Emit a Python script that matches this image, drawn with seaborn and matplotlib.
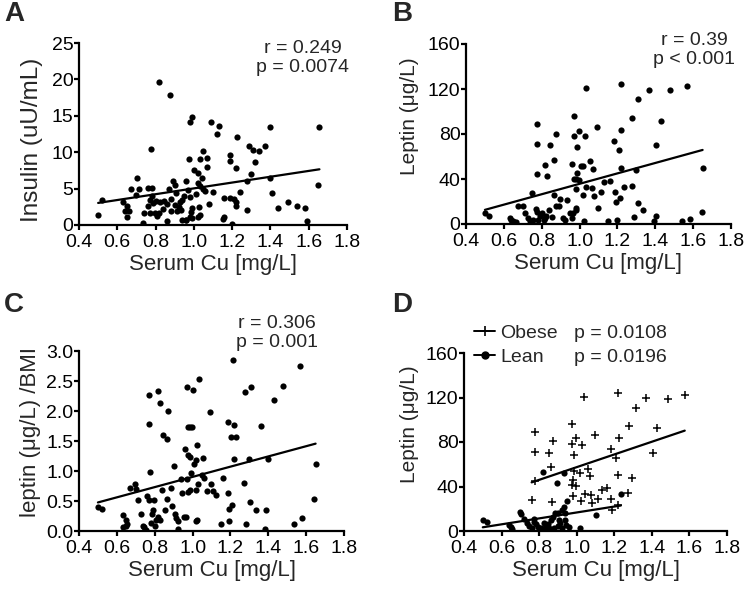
import matplotlib
matplotlib.use("Agg")
import matplotlib.pyplot as plt
from matplotlib.lines import Line2D
import seaborn as sns
import pandas as pd

# --- data ---
# Panel A: serum Cu vs insulin
a_cu = [0.50, 0.52, 0.82, 0.875, 0.775, 0.98, 0.99, 1.09, 1.13, 1.12,
        1.225, 1.40, 1.656, 1.649, 1.29, 1.31, 1.34, 1.37, 1.32, 1.30,
        1.275, 1.28, 1.40, 1.41, 1.44, 1.49, 1.54, 1.58, 1.59, 1.19,
        1.19, 1.22, 1.24, 1.21, 1.22, 1.22, 1.16, 1.19, 1.15, 1.16,
        1.20, 1.05, 1.07, 1.03, 1.07, 1.04, 1.02, 1.00, 1.02, 0.975,
        0.96, 1.03, 1.05, 1.06, 1.10, 1.08, 1.01, 0.98, 0.97, 0.95,
        0.94, 0.93, 0.92, 0.90, 0.89, 0.90, 0.87, 0.905, 0.88, 0.86,
        0.91, 0.88, 0.84, 0.82, 0.86, 0.81, 0.795, 0.77, 0.74, 0.735,
        0.76, 0.78, 0.76, 0.77, 0.785, 0.80, 0.825, 0.845, 0.78, 0.705,
        0.715, 0.67, 0.70, 0.63, 0.65, 0.64, 0.66, 0.65, 0.94, 0.96,
        0.985, 0.99, 0.98, 0.99, 1.02, 1.03, 1.025, 0.935, 0.96]
a_insulin = [1.4, 3.4, 19.6, 17.9, 10.4, 14.1, 14.9, 14.1, 13.6, 12.5,
             12.1, 13.4, 13.5, 5.5, 10.8, 10.3, 10.2, 10.9, 8.6, 7.0,
             6.0, 2.0, 6.4, 4.4, 2.4, 3.2, 2.6, 2.3, 0.5, 9.6,
             8.8, 7.8, 4.6, 3.6, 3.1, 2.6, 3.7, 3.75, 0.8, 1.05,
             0.2, 10.1, 9.2, 9.1, 7.9, 6.4, 5.8, 7.5, 7.2, 9.0,
             6.1, 5.3, 4.9, 4.7, 4.6, 2.9, 4.2, 3.9, 4.8, 4.0,
             3.5, 3.2, 2.5, 2.7, 6.1, 5.5, 4.9, 4.4, 3.6, 2.9,
             1.9, 1.9, 2.2, 1.6, 0.5, 1.3, 1.6, 1.6, 1.6, 0.3,
             5.1, 5.1, 2.6, 3.5, 3.0, 3.3, 3.2, 3.25, 4.0, 6.4,
             5.0, 4.9, 4.1, 3.2, 2.6, 1.9, 1.9, 1.1, 0.7, 0.7,
             1.8, 2.4, 1.1, 0.9, 1.1, 1.4, 2.5, 2.1, 0.7]

# Panel B: serum Cu vs leptin
b_cu = [0.50, 0.52, 0.63, 0.64, 0.65, 0.665, 0.675, 0.70, 0.71, 0.73,
        0.74, 0.75, 0.775, 0.775, 0.775, 0.77, 0.775, 0.79, 0.80, 0.755,
        0.78, 0.81, 0.82, 0.83, 0.845, 0.875, 0.865, 0.865, 0.875, 0.89,
        0.84, 0.825, 0.855, 0.82, 0.895, 0.91, 0.925, 0.935, 0.95, 0.96,
        0.97, 0.97, 0.985, 0.995, 1.005, 1.02, 0.96, 0.985, 0.98, 0.995,
        0.97, 0.98, 0.965, 0.98, 0.98, 1.035, 1.03, 1.02, 1.025, 1.035,
        1.055, 1.07, 1.065, 1.075, 1.09, 1.095, 1.115, 1.13, 1.16, 1.15,
        1.18, 1.185, 1.19, 1.20, 1.22, 1.22, 1.22, 1.21, 1.215, 1.235,
        1.275, 1.275, 1.285, 1.30, 1.31, 1.31, 1.335, 1.365, 1.405, 1.405,
        1.395, 1.43, 1.48, 1.54, 1.57, 1.585, 1.645, 1.65]
b_leptin = [9.8, 7.4, 5.3, 3.9, 2.4, 1.8, 16.3, 16.3, 9.8, 5.3,
            2.4, 27.6, 88.9, 71.1, 44.7, 13.6, 10.7, 7.4, 9.8, 3.9,
            3.9, 3.9, 52.1, 42.4, 69.9, 80.0, 57.2, 25.5, 15.7, 15.7,
            12.7, 7.4, 6.2, 5.3, 22.2, 5.3, 3.9, 21.0, 9.8, 5.3,
            95.7, 77.9, 68.1, 83.0, 52.0, 51.3, 53.6, 45.3, 40.0, 39.4,
            40.3, 14.2, 9.8, 12.1, 31.1, 120.9, 77.9, 26.1, 2.4, 32.6,
            56.0, 48.9, 32.0, 24.6, 86.2, 14.2, 28.4, 37.0, 38.2, 2.4,
            73.5, 28.1, 19.6, 3.3, 124.7, 83.9, 50.1, 66.1, 23.1, 32.9,
            34.1, 94.2, 6.2, 47.7, 111.4, 18.7, 12.1, 119.4, 6.8, 69.9,
            2.4, 91.9, 118.8, 2.4, 123.0, 4.4, 11.0, 49.8]

# Panel C: serum Cu vs leptin/BMI
c_cu = [0.50, 0.52, 0.63, 0.65, 0.655, 0.65, 0.635, 0.67, 0.695, 0.70,
        0.71, 0.73, 0.74, 0.745, 0.755, 0.77, 0.77, 0.775, 0.76, 0.77,
        0.785, 0.79, 0.795, 0.78, 0.80, 0.815, 0.83, 0.805, 0.815, 0.83,
        0.84, 0.845, 0.865, 0.87, 0.865, 0.855, 0.885, 0.89, 0.90, 0.905,
        0.915, 0.925, 0.925, 0.94, 0.955, 0.965, 0.96, 0.97, 1.00, 0.975,
        0.985, 0.995, 0.975, 0.985, 0.97, 0.945, 0.975, 0.985, 0.99, 1.01,
        1.02, 1.025, 1.035, 1.055, 1.02, 1.03, 1.02, 1.025, 1.05, 1.06,
        1.075, 1.095, 1.09, 1.11, 1.125, 1.15, 1.16, 1.185, 1.185, 1.19,
        1.195, 1.21, 1.205, 1.215, 1.22, 1.23, 1.22, 1.27, 1.28, 1.275,
        1.30, 1.31, 1.305, 1.335, 1.36, 1.39, 1.385, 1.40, 1.43, 1.48,
        1.535, 1.58, 1.57, 1.64, 1.65]
c_leptin_bmi = [0.40, 0.37, 0.26, 0.18, 0.12, 0.08, 0.06, 0.72, 0.78, 0.70,
                0.52, 0.28, 0.09, 0.06, 0.02, 2.26, 1.78, 0.98, 0.58, 0.52,
                0.28, 0.35, 0.52, 0.13, 0.09, 2.34, 2.13, 0.18, 0.23, 0.19,
                0.68, 1.60, 1.54, 2.00, 0.54, 0.35, 0.71, 0.41, 1.08, 0.28,
                0.21, 0.16, 0.04, 0.87, 0.24, 0.23, 1.36, 2.40, 2.35, 1.73,
                1.73, 1.73, 1.26, 1.24, 0.87, 0.63, 0.65, 0.68, 0.96, 1.11,
                1.18, 1.44, 2.53, 1.22, 0.69, 0.78, 0.17, 0.19, 0.93, 0.89,
                0.67, 0.79, 1.99, 0.66, 0.60, 0.11, 0.88, 1.82, 0.63, 0.36,
                0.16, 0.43, 1.56, 2.85, 1.76, 1.57, 1.20, 0.80, 0.12, 2.32,
                1.20, 2.40, 0.48, 0.35, 1.75, 0.35, 0.03, 1.20, 2.19, 2.42,
                0.12, 0.22, 2.75, 0.53, 1.11]

# Panel D: obese vs lean
obese_cu = [0.78, 0.78, 0.78, 0.76, 0.85, 0.875, 0.865, 0.87, 0.975, 0.975,
            0.995, 0.985, 0.985, 0.98, 0.995, 0.975, 0.98, 1.02, 1.03, 1.04,
            1.025, 1.045, 1.06, 1.07, 1.075, 1.08, 1.095, 1.115, 1.135, 1.16,
            1.185, 1.185, 1.21, 1.22, 1.225, 1.22, 1.22, 1.19, 1.28, 1.275,
            1.295, 1.315, 1.37, 1.43, 1.405, 1.485, 1.575]
obese_leptin = [88.6, 71.4, 45.3, 27.9, 70.5, 80.5, 57.9, 26.4, 95.8, 78.0,
                83.5, 68.4, 54.0, 46.0, 40.8, 41.4, 31.8, 52.0, 77.5, 120.4,
                27.0, 33.3, 55.8, 49.5, 32.4, 24.9, 86.5, 28.5, 36.9, 39.0,
                73.8, 28.5, 65.4, 124.0, 84.0, 50.4, 23.4, 18.9, 94.6, 33.9,
                48.0, 111.0, 119.2, 92.5, 70.5, 118.6, 122.5]
lean_cu = [0.50, 0.525, 0.64, 0.65, 0.655, 0.70, 0.705, 0.72, 0.735, 0.745,
           0.76, 0.77, 0.775, 0.785, 0.795, 0.81, 0.82, 0.825, 0.845, 0.855,
           0.865, 0.875, 0.885, 0.895, 0.90, 0.90, 0.905, 0.91, 0.92, 0.93,
           0.93, 0.935, 0.94, 0.945, 0.95, 0.96, 0.92, 0.88, 1.02, 1.10,
           1.235, 0.83]
lean_leptin = [9.9, 7.8, 5.4, 3.9, 1.8, 17.4, 15.0, 10.5, 6.9, 4.8,
               3.0, 10.5, 7.8, 6.0, 3.9, 3.0, 52.8, 6.9, 6.0, 3.0,
               9.9, 12.9, 15.9, 42.9, 16.5, 4.5, 9.9, 6.9, 18.9, 52.5,
               21.9, 16.5, 9.9, 5.4, 27.0, 3.3, 2.4, 2.4, 3.0, 14.4,
               33.3, 3.0]

x_ticks = [0.4, 0.6, 0.8, 1.0, 1.2, 1.4, 1.6, 1.8]
x_tick_labels = ["0.4", "0.6", "0.8", "1.0", "1.2", "1.4", "1.6", "1.8"]
stats_a = "r = 0.249\np = 0.0074"
stats_b = "r = 0.39\np < 0.001"
stats_c = "r = 0.306\np = 0.001"
group_names = ["Obese", "Lean"]
group_p = ["p = 0.0108", "p = 0.0196"]

# --- style ---
sns.set_style("ticks")
plt.rcParams['font.family'] = ['Liberation Sans', 'DejaVu Sans']
plt.rcParams['axes.linewidth'] = 1.6
plt.rcParams['xtick.major.width'] = 1.6
plt.rcParams['ytick.major.width'] = 1.6
plt.rcParams['xtick.major.size'] = 3.5
plt.rcParams['ytick.major.size'] = 3.5
plt.rcParams['xtick.major.pad'] = 3
plt.rcParams['ytick.major.pad'] = 0.5
plt.rcParams['xtick.labelsize'] = 14
plt.rcParams['ytick.labelsize'] = 14

W, H = 750, 589
fig = plt.figure(figsize=(7.5, 5.89), dpi=100)


def px_axes(left, top, right, bottom):
    return fig.add_axes([left / W, 1 - bottom / H, (right - left) / W, (bottom - top) / H])


ax_a = px_axes(79, 43, 347, 225)
ax_b = px_axes(466, 44, 731, 224)
ax_c = px_axes(79, 351, 344, 531)
ax_d = px_axes(464, 353, 727, 531)

dot = dict(color="black", s=20, linewidth=0)
line = dict(color="black", linewidth=1.6)


def scatter_fit(ax, x, y):
    df = pd.DataFrame({"x": x, "y": y})
    sns.scatterplot(data=df, x="x", y="y", ax=ax, **dot)
    sns.regplot(data=df, x="x", y="y", ax=ax, scatter=False, ci=None,
                line_kws=line)


scatter_fit(ax_a, a_cu, a_insulin)
scatter_fit(ax_b, b_cu, b_leptin)
scatter_fit(ax_c, c_cu, c_leptin_bmi)

# panel D: two groups
ob = pd.DataFrame({"x": obese_cu, "y": obese_leptin})
le = pd.DataFrame({"x": lean_cu, "y": lean_leptin})
sns.scatterplot(data=ob, x="x", y="y", ax=ax_d, marker="+", color="black",
                s=30, linewidth=1.1)
sns.regplot(data=ob, x="x", y="y", ax=ax_d, scatter=False, ci=None, line_kws=line)
sns.scatterplot(data=le, x="x", y="y", ax=ax_d, **dot)
sns.regplot(data=le, x="x", y="y", ax=ax_d, scatter=False, ci=None, line_kws=line)

ylims = [(0, 25), (0, 160), (0, 3.0), (0, 160)]
yticks = [[0, 5, 10, 15, 20, 25], [0, 40, 80, 120, 160],
          [0.0, 0.5, 1.0, 1.5, 2.0, 2.5, 3.0], [0, 40, 80, 120, 160]]
ytick_labels = [["0", "5", "10", "15", "20", "25"], ["0", "40", "80", "120", "160"],
                ["0.0", "0.5", "1.0", "1.5", "2.0", "2.5", "3.0"],
                ["0", "40", "80", "120", "160"]]
ylabels = ["Insulin (uU/mL)", "Leptin (\u03bcg/L)", "leptin (\u03bcg/L) /BMI",
           "Leptin (\u03bcg/L)"]
ylabel_size = [17.5, 15, 16, 15]
ylabel_pos = [(-0.135, 0.47), (-0.176, 0.60), (-0.143, 0.55), (-0.173, 0.60)]

for ax, yl, yt, ytl, lab, fs, pos in zip([ax_a, ax_b, ax_c, ax_d], ylims, yticks,
                                         ytick_labels, ylabels, ylabel_size,
                                         ylabel_pos):
    ax.set_xlim(0.4, 1.8)
    ax.set_ylim(*yl)
    ax.set_xticks(x_ticks)
    ax.set_xticklabels(x_tick_labels)
    ax.set_yticks(yt)
    ax.set_yticklabels(ytl)
    ax.set_xlabel("Serum Cu [mg/L]", fontsize=16, labelpad=2)
    ax.set_ylabel(lab, fontsize=fs)
    ax.yaxis.set_label_coords(*pos)
    for sp in ("top", "right"):
        ax.spines[sp].set_visible(False)
    for sp in ("left", "bottom"):
        ax.spines[sp].set_color("black")
    ax.tick_params(colors="black", direction="out")
    ax.patch.set_alpha(0)


def fig_text(x, y, s, **kw):
    fig.text(x / W, 1 - y / H, s, **kw)


fig_text(303, 58, stats_a, ha="center", va="center", fontsize=14)
fig_text(694, 50, stats_b, ha="center", va="center", fontsize=14)
fig_text(277, 333, stats_c, ha="center", va="center", fontsize=14)

# panel letters
for letter, x, y in [("A", 4, 14), ("B", 392, 14), ("C", 4, 305), ("D", 392, 305)]:
    fig_text(x, y, letter, ha="left", va="center", fontsize=20, fontweight="bold")

# panel D legend
handles = [Line2D([], [], color="black", lw=1.4, marker="+", markersize=7, mew=1.2),
           Line2D([], [], color="black", lw=1.4, marker="o", markersize=5)]
ax_d.legend(handles, group_names, loc="center left", frameon=False, fontsize=14,
            bbox_to_anchor=(474 / W, 1 - 345 / H), bbox_transform=fig.transFigure,
            borderaxespad=0, borderpad=0, handlelength=1.1, handletextpad=0.25,
            labelspacing=0.3)
fig_text(574, 333, group_p[0], ha="left", va="center", fontsize=14)
fig_text(574, 358, group_p[1], ha="left", va="center", fontsize=14)

fig.savefig("out.png", dpi=100, facecolor="white")
